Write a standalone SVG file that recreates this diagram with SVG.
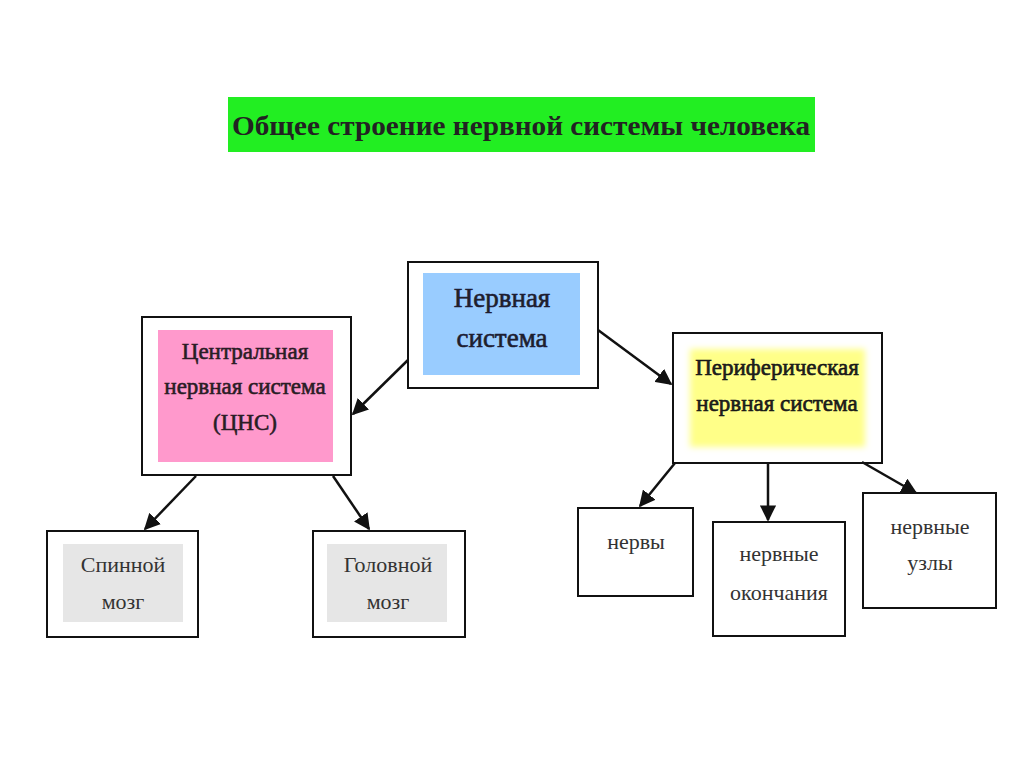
<svg xmlns="http://www.w3.org/2000/svg" width="1024" height="767" viewBox="0 0 1024 767">
<defs>
<marker id="ah" viewBox="0 0 10 10" refX="9" refY="5" markerWidth="6.5" markerHeight="6.5" markerUnits="strokeWidth" orient="auto">
<path d="M0,0 L10,5 L0,10 z" fill="#111"/>
</marker>
<filter id="blur" x="-10%" y="-10%" width="120%" height="120%"><feGaussianBlur stdDeviation="3"/></filter>
</defs>
<style>
.box{fill:#fff;stroke:#111;stroke-width:2}
.t{font-family:"Liberation Serif","Times New Roman",serif;text-anchor:middle;fill:#222}
.big{font-size:27px;stroke-width:0.6}
.mid{font-size:23px;stroke-width:0.6}
.sm{font-size:22px;fill:#333}
.conn line{stroke:#111;stroke-width:2.5;marker-end:url(#ah)}
</style>
<rect width="1024" height="767" fill="#fff"/>
<g id="title">
<rect x="228" y="97" width="587" height="55" fill="#22ee22"/>
<text class="t" x="521" y="135" font-size="28" font-weight="bold" fill="#111" textLength="578" lengthAdjust="spacingAndGlyphs">Общее строение нервной системы человека</text>
</g>
<g id="nervous-system">
<rect class="box" x="408" y="262" width="190" height="126"/>
<rect x="423" y="273" width="157" height="102" fill="#99ccff"/>
<text class="t big" x="502" y="307" fill="#1a1a40" stroke="#1a1a40">Нервная</text>
<text class="t big" x="502" y="347" fill="#1a1a40" stroke="#1a1a40">система</text>
</g>
<g id="cns">
<rect class="box" x="142" y="317" width="209" height="158"/>
<rect x="158" y="330" width="175" height="132" fill="#ff99cc"/>
<text class="t mid" x="245" y="359" fill="#331a2a" stroke="#331a2a">Центральная</text>
<text class="t mid" x="245" y="394" fill="#331a2a" stroke="#331a2a">нервная система</text>
<text class="t mid" x="245" y="430" fill="#331a2a" stroke="#331a2a">(ЦНС)</text>
</g>
<g id="pns">
<rect class="box" x="673" y="333" width="209" height="130"/>
<rect x="690" y="349" width="175" height="98" fill="#ffff88" filter="url(#blur)"/>
<text class="t mid" x="777" y="375" fill="#111" stroke="#111">Периферическая</text>
<text class="t mid" x="777" y="411" fill="#111" stroke="#111">нервная система</text>
</g>
<g id="spinal">
<rect class="box" x="47" y="531" width="151" height="106"/>
<rect x="63" y="544" width="120" height="78" fill="#e6e6e6"/>
<text class="t sm" x="123" y="572">Спинной</text>
<text class="t sm" x="123" y="609">мозг</text>
</g>
<g id="brain">
<rect class="box" x="313" y="531" width="152" height="106"/>
<rect x="327" y="544" width="120" height="78" fill="#e6e6e6"/>
<text class="t sm" x="388" y="572">Головной</text>
<text class="t sm" x="388" y="609">мозг</text>
</g>
<g id="nerves">
<rect class="box" x="578" y="508" width="115" height="88"/>
<text class="t sm" x="636" y="549">нервы</text>
</g>
<g id="endings">
<rect class="box" x="713" y="522" width="132" height="114"/>
<text class="t sm" x="779" y="561">нервные</text>
<text class="t sm" x="779" y="600">окончания</text>
</g>
<g id="ganglia">
<rect class="box" x="863" y="493" width="133" height="115"/>
<text class="t sm" x="930" y="534">нервные</text>
<text class="t sm" x="930" y="570">узлы</text>
</g>
<g id="connectors" class="conn">
<line x1="408" y1="360" x2="353" y2="414"/>
<line x1="598" y1="330" x2="671" y2="384"/>
<line x1="196" y1="476" x2="145" y2="529"/>
<line x1="333" y1="476" x2="369" y2="529"/>
<line x1="675" y1="463" x2="640" y2="506"/>
<line x1="768" y1="463" x2="768" y2="520"/>
<line x1="862" y1="462" x2="916" y2="493"/>
</g>
</svg>
